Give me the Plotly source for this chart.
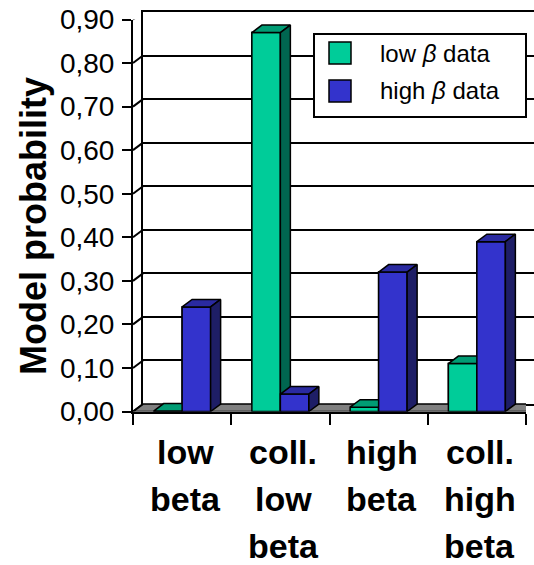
import plotly.graph_objects as go

# ---------------- data ----------------
categories = ["low beta", "coll. low beta", "high beta", "coll. high beta"]
cat_lines = [["low", "beta"], ["coll.", "low", "beta"], ["high", "beta"], ["coll.", "high", "beta"]]
low_beta_data = [0.001, 0.87, 0.01, 0.11]
high_beta_data = [0.24, 0.04, 0.32, 0.39]
series_names = ["low <i>β</i> data", "high <i>β</i> data"]
tick_values = [0.0, 0.1, 0.2, 0.3, 0.4, 0.5, 0.6, 0.7, 0.8, 0.9]
tick_labels = ["0,00", "0,10", "0,20", "0,30", "0,40", "0,50", "0,60", "0,70", "0,80", "0,90"]
y_title = "Model probability"

# ---------------- styling / geometry ----------------
W, H = 534, 565
FONT = "Liberation Sans, Arial, sans-serif"
GREEN = dict(front="#00CC99", top="#009C74", side="#006650")
BLUE = dict(front="#3333CC", top="#2A2AA0", side="#1E1E66")
FLOOR = "#808080"

def px(x):
    return x / W

def py(y):
    return 1 - y / H

# front plane (pixels)
FX0, FX1 = 133, 526
FY0, FY1 = 411.5, 19.5   # value 0 , value 0.9
DX, DY = 10, 7.5         # depth offset in pixels
YMAX = 0.9
NCAT = len(categories)
xunit = (FX1 - FX0) / NCAT
yunit = (FY0 - FY1) / YMAX
ddx = DX / xunit
ddy = DY / yunit
BARW = 0.29

fig = go.Figure()

# ---- back wall (first subplot so it is drawn below bars) ----
fig.add_trace(go.Scatter(x=[0], y=[0], mode="markers", marker=dict(opacity=0),
                         showlegend=False, hoverinfo="skip", xaxis="x", yaxis="y"))

# ---- floor ----
fig.add_trace(go.Scatter(
    x=[-0.5, NCAT - 0.5, NCAT - 0.5 + ddx, -0.5 + ddx, -0.5],
    y=[0, 0, ddy, ddy, 0], fill="toself", fillcolor=FLOOR, mode="lines",
    line=dict(color="black", width=1.5), showlegend=False, hoverinfo="skip",
    xaxis="x2", yaxis="y2"))

# ---- real bars (front faces) ----
for vals, col, off in [(low_beta_data, GREEN, -BARW), (high_beta_data, BLUE, 0.0)]:
    fig.add_trace(go.Bar(x=list(range(NCAT)), y=vals, width=BARW, offset=off,
                         marker=dict(color=col["front"], line=dict(color="black", width=1.5)),
                         showlegend=False, xaxis="x2", yaxis="y2"))

# ---- 3D faces as polygons (drawn in order: green then blue) ----
def faces(vals, off):
    fx, fy, tx, ty, sx, sy = [], [], [], [], [], []
    for i, v in enumerate(vals):
        xl = i + off
        xr = xl + BARW
        fx += [xl, xr, xr, xl, xl, None]
        fy += [0, 0, v, v, 0, None]
        tx += [xl, xr, xr + ddx, xl + ddx, xl, None]
        ty += [v, v, v + ddy, v + ddy, v, None]
        sx += [xr, xr + ddx, xr + ddx, xr, xr, None]
        sy += [0, ddy, v + ddy, v, 0, None]
    return (fx, fy), (tx, ty), (sx, sy)

for vals, col, off in [(low_beta_data, GREEN, -BARW), (high_beta_data, BLUE, 0.0)]:
    f, t, s = faces(vals, off)
    for (xx, yy), c in [(f, col["front"]), (t, col["top"]), (s, col["side"])]:
        fig.add_trace(go.Scatter(x=xx, y=yy, fill="toself", fillcolor=c, mode="lines",
                                 line=dict(color="black", width=1.5), showlegend=False,
                                 hoverinfo="skip", xaxis="x2", yaxis="y2"))

shapes = []
# diagonal connectors from front axis ticks to back wall
for v in tick_values:
    shapes.append(dict(type="line", xref="paper", yref="y2", x0=px(FX0), x1=px(FX0 + DX),
                       y0=v, y1=v + ddy, line=dict(color="black", width=2), layer="above"))

# custom legend
shapes.append(dict(type="rect", xref="paper", yref="paper", x0=px(314), x1=px(526),
                   y0=py(117), y1=py(34), fillcolor="white", line=dict(color="black", width=2)))
legend_cols = [GREEN["front"], BLUE["front"]]
legend_rows = [53, 91]
annotations = []
for name, c, yy in zip(series_names, legend_cols, legend_rows):
    shapes.append(dict(type="rect", xref="paper", yref="paper", x0=px(329), x1=px(351),
                       y0=py(yy + 11), y1=py(yy - 11), fillcolor=c,
                       line=dict(color="black", width=1.5)))
    annotations.append(dict(text=name, xref="paper", yref="paper", x=px(378), y=py(yy),
                            xanchor="left", yanchor="middle", showarrow=False,
                            font=dict(family=FONT, size=24, color="black")))

# category labels (one annotation per line)
line_y = [452, 499, 546]
for i, lines in enumerate(cat_lines):
    for j, t in enumerate(lines):
        annotations.append(dict(text=t, xref="x2", yref="paper", x=i + 0.03, y=py(line_y[j]),
                                xanchor="center", yanchor="middle", showarrow=False,
                                font=dict(family=FONT, size=34, color="black",
                                          weight="bold")))

# y title
annotations.append(dict(text=y_title, xref="paper", yref="paper", x=px(33), y=py(226),
                        xanchor="center", yanchor="middle", textangle=-90, showarrow=False,
                        font=dict(family=FONT, size=36, color="black", weight="bold")))

fig.update_layout(
    width=W, height=H, margin=dict(l=0, r=0, t=0, b=0, pad=0, autoexpand=False),
    paper_bgcolor="white", plot_bgcolor="rgba(0,0,0,0)",
    showlegend=False,
    xaxis=dict(domain=[px(FX0 + DX), 1], range=[0, 1], visible=True, showticklabels=False,
               ticks="", showgrid=False, zeroline=False, showline=True, mirror=True,
               linecolor="black", linewidth=2, anchor="y", automargin=False),
    yaxis=dict(domain=[py(FY0 - DY), py(FY1 - DY)], range=[0, YMAX], tickvals=tick_values,
               showticklabels=False, ticks="", showgrid=True, gridcolor="black", gridwidth=2,
               zeroline=False, showline=True, linecolor="black", linewidth=2, anchor="x",
               automargin=False),
    xaxis2=dict(domain=[px(FX0), px(FX1)], range=[-0.5, NCAT - 0.5],
                tickvals=[k - 0.5 for k in range(NCAT + 1)], showticklabels=False,
                ticks="outside", ticklen=11, tickwidth=2, tickcolor="black",
                showgrid=False, zeroline=False, showline=True, linecolor="black", linewidth=2,
                anchor="y2", automargin=False),
    yaxis2=dict(domain=[py(FY0), py(FY1)], range=[0, YMAX], tickvals=tick_values,
                ticktext=tick_labels, ticks="outside", ticklen=9, tickwidth=2,
                tickcolor="black", ticklabelstandoff=2,
                tickfont=dict(family=FONT, size=28, color="black"),
                showgrid=False, zeroline=False, showline=True, linecolor="black",
                linewidth=2, anchor="x2", automargin=False),
    shapes=shapes, annotations=annotations,
    bargap=0.42,
)

fig.write_html("out.html")
